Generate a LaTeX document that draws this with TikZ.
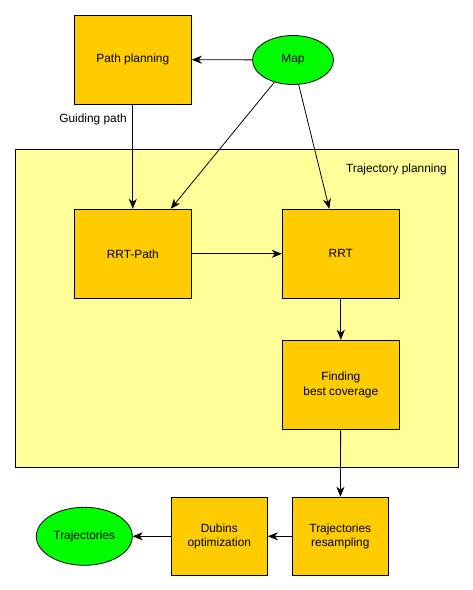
\documentclass[tikz,border=0pt]{standalone}
\usepackage{fontspec}
\setmainfont{Liberation Sans}
\usetikzlibrary{arrows.meta,shapes.geometric}
\definecolor{boxfill}{HTML}{FFCC00}
\definecolor{contfill}{HTML}{FFFF99}
\definecolor{ellfill}{HTML}{00FF00}
\begin{document}
\begin{tikzpicture}[x=1pt,y=-1pt,
  every node/.style={font=\fontsize{11.9}{14.4}\selectfont, text=black},
  procbox/.style={draw=black, line width=1pt, fill=boxfill, align=center, inner sep=0pt},
  bigbox/.style={procbox, minimum width=117pt, minimum height=89pt},
  smallbox/.style={procbox, minimum width=96pt, minimum height=78pt},
  term/.style={ellipse, draw=black, line width=0.8pt, fill=ellfill, inner sep=0pt},
  contbox/.style={draw=black, line width=1pt, fill=contfill, inner sep=0pt, minimum width=443.4pt, minimum height=318pt},
  conn/.style={draw=black, line width=0.8pt, -{Stealth[length=10pt,width=8pt,inset=3pt]}},
  plain/.style={inner sep=0pt}
]
\useasboundingbox (0,0) rectangle (473,590);
\node[contbox] (tp) at (237,308) {};
\node[plain, anchor=east] (tplabel) at (447,169) {Trajectory planning};
\node[bigbox] (pp) at (132.8,59.5) {Path planning};
\node[term, minimum width=81pt, minimum height=49pt] (map) at (293,60) {Map};
\node[plain] (guide) at (93,119) {Guiding path};
\node[bigbox] (rrtpath) at (132.8,253.8) {RRT-Path};
\node[bigbox] (rrt) at (340.8,253.8) {RRT};
\node[bigbox] (find) at (340.8,384.8) {Finding\\best coverage};
\node[smallbox] (resamp) at (340.3,536.3) {Trajectories\\resampling};
\node[smallbox] (dubins) at (219.3,536.3) {Dubins\\optimization};
\node[term, minimum width=96pt, minimum height=58pt] (traj) at (84.3,536.3) {Trajectories};

\draw[conn] (map) -- (pp);
\draw[conn] (pp) -- (rrtpath);
\draw[conn] (map.230) -- ([xshift=38pt]rrtpath.north);
\draw[conn] (map.283) -- ([xshift=-11.5pt]rrt.north);
\draw[conn] (rrtpath) -- (rrt);
\draw[conn] (rrt) -- (find);
\draw[conn] (find) -- (resamp);
\draw[conn] (resamp) -- (dubins);
\draw[conn] (dubins) -- (traj);
\end{tikzpicture}
\end{document}
